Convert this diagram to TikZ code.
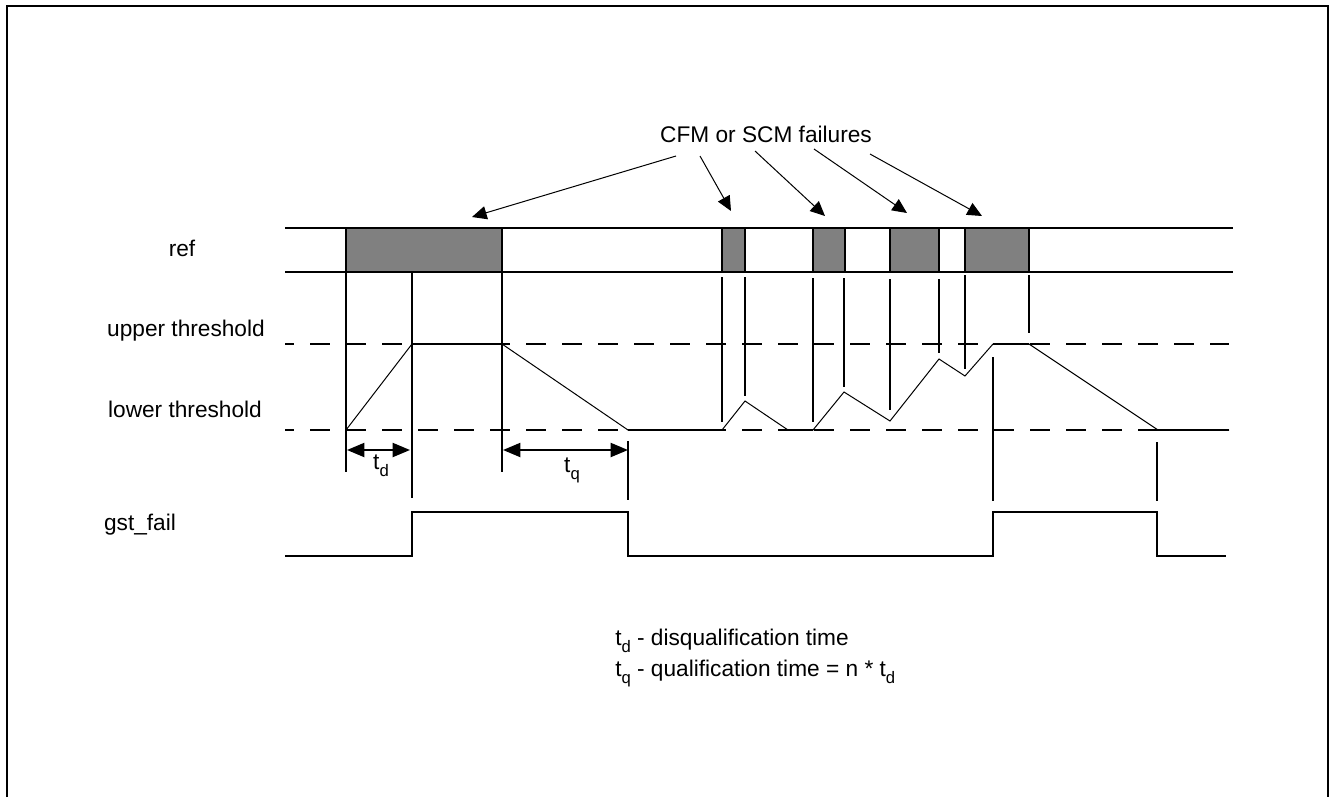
\documentclass[tikz,border=0pt]{standalone}
\usepackage{fontspec}
\setmainfont{Liberation Sans}
\usetikzlibrary{arrows.meta}
\definecolor{failgray}{RGB}{128,128,128}
\newcommand{\subtxt}[1]{\raisebox{-0.32em}{\fontsize{12.5}{13}\selectfont #1}}
\begin{document}
\begin{tikzpicture}[x=0.75pt,y=-0.75pt,
  heavy/.style={line width=1.5pt},
  light/.style={line width=0.75pt},
  thresh/.style={line width=1.5pt, dash pattern=on 15pt off 12pt, dash phase=8.25pt},
  block/.style={line width=1.5pt, draw=black, fill=failgray},
  cfmarrow/.style={line width=0.75pt, -{Triangle[length=11pt,width=10pt]}},
  dimarrow/.style={line width=1.5pt, {Triangle[length=13pt,width=10.5pt]}-{Triangle[length=13pt,width=10.5pt]}},
  lbl/.style={font=\fontsize{17}{20}\selectfont, inner sep=0pt, anchor=base},
  lblw/.style={font=\fontsize{17}{20}\selectfont, inner sep=0pt, anchor=base west}]
\useasboundingbox (0,0) rectangle (1329,797);
% frame
\draw[heavy] (7,797) -- (7,6) -- (1328,6) -- (1328,797);

% ref track
\draw[heavy] (285,228) -- (1233,228);
\draw[heavy] (285,272) -- (1233,272);
\draw[block] (346,228) rectangle (502,272);
\draw[block] (722,228) rectangle (745,272);
\draw[block] (813,228) rectangle (845,272);
\draw[block] (890,228) rectangle (939,272);
\draw[block] (965,228) rectangle (1029,272);

% thresholds
\draw[thresh] (285,344) -- (1229,344);
\draw[thresh] (285,430) -- (1229,430);

% counter signal
\draw[light] (346,430) -- (412,344) -- (502,344) -- (628,430) -- (722,430)
  -- (745,401) -- (788,430) -- (813,430) -- (844,392) -- (890,421)
  -- (939,359) -- (965,376) -- (993,344) -- (1029,344) -- (1158,430) -- (1229,430);
\draw[heavy] (412,344) -- (502,344);
\draw[heavy] (993,344) -- (1029,344);
\draw[heavy] (628,430) -- (722,430);
\draw[heavy] (788,430) -- (813,430);
\draw[heavy] (1158,430) -- (1229,430);

% vertical markers
\draw[heavy] (346,272) -- (346,472);
\draw[heavy] (412,272) -- (412,498);
\draw[heavy] (502,272) -- (502,472);
\draw[heavy] (628,441) -- (628,500);
\draw[heavy] (722,277) -- (722,422);
\draw[heavy] (745,277) -- (745,396);
\draw[heavy] (813,278) -- (813,422);
\draw[heavy] (844,278) -- (844,387);
\draw[heavy] (890,279) -- (890,410);
\draw[heavy] (939,279) -- (939,353);
\draw[heavy] (965,275) -- (965,369);
\draw[heavy] (1029,275) -- (1029,333);
\draw[heavy] (993,357) -- (993,501);
\draw[heavy] (1157,442) -- (1157,501);

% time intervals
\coordinate (tds) at (347,450); \coordinate (tde) at (410,450);
\coordinate (tqs) at (503,450); \coordinate (tqe) at (628,450);
\draw[dimarrow] (tds) -- (tde);
\draw[dimarrow] (tqs) -- (tqe);
\node[lbl] (tdl) at (381,469) {t\subtxt{d}};
\node[lbl] (tql) at (572,472) {t\subtxt{q}};

% gst_fail
\draw[heavy] (285,556) -- (412,556) -- (412,512) -- (628,512) -- (628,556)
  -- (993,556) -- (993,512) -- (1157,512) -- (1157,556) -- (1226,556);

% labels
\node[lbl] (lref) at (182,256) {ref};
\node[lbl] (lup) at (186,336) {upper threshold};
\node[lbl] (llow) at (185,417) {lower threshold};
\node[lbl] (lgst) at (140,530) {gst\_fail};

% CFM annotation
\node[lbl] (cfm) at (766,142) {CFM or SCM failures};
\coordinate (a1s) at (676,156); \coordinate (a1e) at (472,217);
\coordinate (a2s) at (700,156); \coordinate (a2e) at (731,211);
\coordinate (a3s) at (755,151); \coordinate (a3e) at (825,216);
\coordinate (a4s) at (814,149); \coordinate (a4e) at (907,213);
\coordinate (a5s) at (870,154); \coordinate (a5e) at (982,216);
\draw[cfmarrow] (a1s) -- (a1e);
\draw[cfmarrow] (a2s) -- (a2e);
\draw[cfmarrow] (a3s) -- (a3e);
\draw[cfmarrow] (a4s) -- (a4e);
\draw[cfmarrow] (a5s) -- (a5e);

% legend
\node[lblw] (leg1) at (615,645) {t\subtxt{d} - disqualification time};
\node[lblw] (leg2) at (615,676) {t\subtxt{q} - qualification time = n * t\subtxt{d}};
\end{tikzpicture}
\end{document}
